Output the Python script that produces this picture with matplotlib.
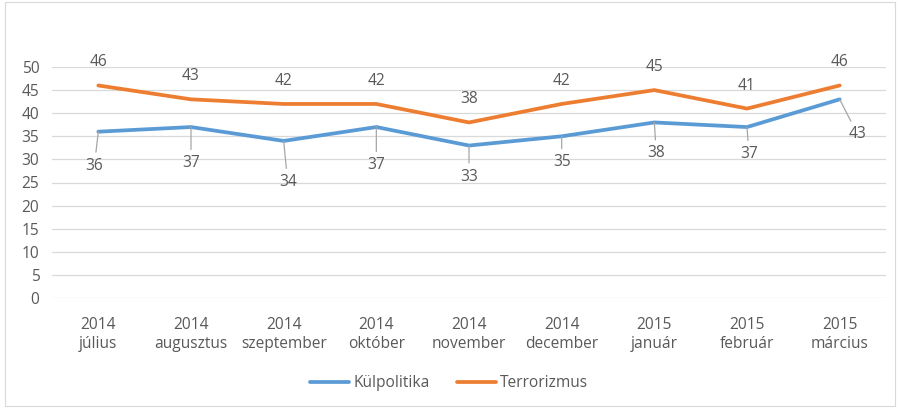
import matplotlib
matplotlib.use("Agg")
import matplotlib.pyplot as plt
from matplotlib.patches import Rectangle

categories = ["2014\njúlius", "2014\naugusztus", "2014\nszeptember", "2014\noktóber",
              "2014\nnovember", "2014\ndecember", "2015\njanuár", "2015\nfebruár", "2015\nmárcius"]
kulpolitika = [36, 37, 34, 37, 33, 35, 38, 37, 43]
terrorizmus = [46, 43, 42, 42, 38, 42, 45, 41, 46]
yticks = [0, 5, 10, 15, 20, 25, 30, 35, 40, 45, 50]

# label offsets in pixels (layout only)
blue_off = [(-4, -34), (0, -36), (4, -41), (0, -38), (0, -31), (0, -26), (2, -31), (2, -27), (18, -35)]
orange_off = (0, 23)

plt.rcParams['font.family'] = ['Open Sans', 'DejaVu Sans']
TXT = '#595959'
BLUE = '#5B9BD5'
ORANGE = '#ED7D31'
FS = 11.2

fig = plt.figure(figsize=(8.98, 4.08), dpi=100)
ax = fig.add_axes([52/898, 1-298/408, (886-52)/898, (298-67)/408])
x = list(range(len(categories)))
ax.plot(x, kulpolitika, color=BLUE, lw=2.7, solid_capstyle='round', solid_joinstyle='round', label='Külpolitika', zorder=3)
ax.plot(x, terrorizmus, color=ORANGE, lw=2.7, solid_capstyle='round', solid_joinstyle='round', label='Terrorizmus', zorder=3)

ax.set_xlim(-0.5, len(categories) - 0.5)
ax.set_ylim(0, 50)
ax.set_yticks(yticks)
ax.set_xticks(x)
ax.set_xticklabels(categories, linespacing=1.2)
ax.tick_params(axis='both', length=0, labelsize=FS, labelcolor=TXT)
ax.tick_params(axis='y', pad=9)
ax.tick_params(axis='x', pad=14)
for s in ax.spines.values():
    s.set_visible(False)
ax.grid(axis='y', color='#D9D9D9', lw=0.9)
ax.set_axisbelow(True)

for xi, v in zip(x, terrorizmus):
    ax.annotate(str(v), (xi, v), xytext=orange_off, textcoords='offset pixels',
                ha='center', va='center', fontsize=FS, color=TXT, annotation_clip=False)
for xi, v, off in zip(x, kulpolitika, blue_off):
    ax.annotate(str(v), (xi, v), xytext=off, textcoords='offset pixels',
                ha='center', va='center', fontsize=FS, color=TXT, annotation_clip=False,
                arrowprops=dict(arrowstyle='-', color='#A6A6A6', lw=0.9, shrinkA=2, shrinkB=0))

leg = fig.legend(loc='center', bbox_to_anchor=(0.5, 1-383/408), ncol=2, frameon=False,
                 fontsize=FS, handlelength=2.5, handletextpad=0.25, columnspacing=1.75)
for t in leg.get_texts():
    t.set_color(TXT)

fig.patches.append(Rectangle((5/898, 2/408), 890/898, 404/408, transform=fig.transFigure,
                             fill=False, edgecolor='#D9D9D9', lw=0.8))
fig.savefig('out.png', dpi=100)
